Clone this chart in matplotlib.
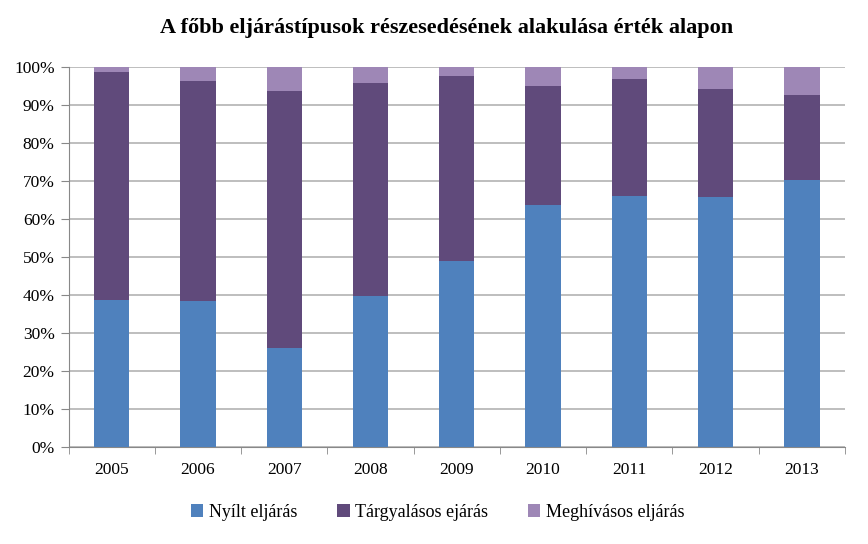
import matplotlib
matplotlib.use("Agg")
import matplotlib.pyplot as plt
import numpy as np

years = ["2005", "2006", "2007", "2008", "2009", "2010", "2011", "2012", "2013"]
nyilt = [38.7, 38.4, 26.1, 39.7, 48.9, 63.7, 66.1, 65.8, 70.3]
targy_top = [98.6, 96.3, 93.7, 95.8, 97.6, 95.0, 96.8, 94.2, 92.6]
targyalasos = [t - n for t, n in zip(targy_top, nyilt)]
meghivasos = [100 - t for t in targy_top]
series_names = ["Nyílt eljárás", "Tárgyalásos ejárás", "Meghívásos eljárás"]
colors = ["#4F81BD", "#604A7B", "#9E87B6"]

plt.rcParams['font.family'] = ['Liberation Serif', 'DejaVu Serif']

fig = plt.figure(figsize=(8.68, 5.44), dpi=100)
ax = fig.add_axes([0.079, 0.178, 0.8945, 0.699])

x = np.arange(len(years))
w = 0.41
bottom = np.zeros(len(years))
for vals, name, c in zip([nyilt, targyalasos, meghivasos], series_names, colors):
    ax.bar(x, vals, w, bottom=bottom, color=c, label=name, zorder=3)
    bottom += np.array(vals)

ax.set_xlim(-0.5, len(years) - 0.5)
ax.set_ylim(0, 100)
ax.set_yticks(np.arange(0, 101, 10))
ax.set_yticklabels([f"{v}%" for v in range(0, 101, 10)], fontsize=12.5)
ax.yaxis.grid(True, color="#B3B3B3", linewidth=1.2, zorder=0)
ax.set_xticks(x)
ax.set_xticklabels(years, fontsize=12.5)
ax.set_xticks(np.arange(-0.5, len(years), 1), minor=True)
ax.tick_params(axis='x', which='major', length=0, pad=11)
ax.tick_params(axis='x', which='minor', length=5, color="#888888", direction='out')
ax.tick_params(axis='y', length=6, color="#888888", direction='out', pad=4)
for s in ["top", "right"]:
    ax.spines[s].set_visible(False)
ax.spines["left"].set_color("#888888")
ax.spines["bottom"].set_color("#888888")

fig.text(0.514, 0.948, "A főbb eljárástípusok részesedésének alakulása érték alapon",
         ha="center", va="center", fontsize=16, fontweight="bold")

handles, labels = ax.get_legend_handles_labels()
fig.legend(handles, labels, loc="center", bbox_to_anchor=(0.504, 0.058), ncol=3,
           frameon=False, fontsize=13, handlelength=0.7, handleheight=0.7,
           handletextpad=0.3, columnspacing=2.2)

fig.savefig("out.png", dpi=100)
